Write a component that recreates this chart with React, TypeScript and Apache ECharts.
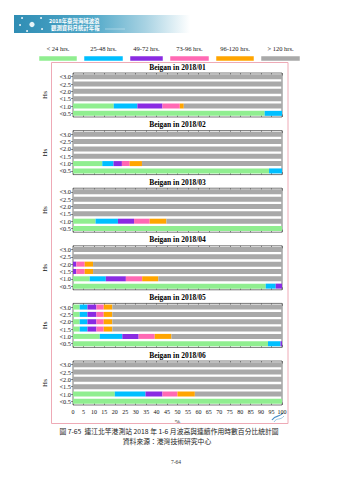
import React, { useEffect, useRef } from 'react';
import * as echarts from 'echarts';

// Hs categories, bottom to top
const hsCategories = ['<0.5', '<1.0', '<1.5', '<2.0', '<2.5', '<3.0'];
const durationClasses = ['< 24 hrs.', '25-48 hrs.', '49-72 hrs.', '73-96 hrs.', '96-120 hrs.', '> 120 hrs.'];
const classColors = ['#90EE90', '#00BFFF', '#8A2BE2', '#FF69B4', '#FFA500', '#A9A9A9'];
const months = ['2018/01', '2018/02', '2018/03', '2018/04', '2018/05', '2018/06'];

// percentage of time per duration class, values for hsCategories (bottom to top)
const jan_24 = [91.7, 19.5, 0, 0, 0, 0];
const jan_48 = [8.3, 11.3, 0, 0, 0, 0];
const jan_72 = [0, 12.0, 0, 0, 0, 0];
const jan_96 = [0, 8.3, 0, 0, 0, 0];
const jan_120 = [0, 1.9, 0, 0, 0, 0];

const feb_24 = [93.8, 14.0, 0, 0, 0, 0];
const feb_48 = [6.2, 5.4, 0, 0, 0, 0];
const feb_72 = [0, 4.0, 0, 0, 0, 0];
const feb_96 = [0, 3.7, 0, 0, 0, 0];
const feb_120 = [0, 5.9, 0, 0, 0, 0];

const mar_24 = [100, 10.8, 0, 0, 0, 0];
const mar_48 = [0, 10.7, 0, 0, 0, 0];
const mar_72 = [0, 7.7, 0, 0, 0, 0];
const mar_96 = [0, 7.5, 0, 0, 0, 0];
const mar_120 = [0, 8.0, 0, 0, 0, 0];

const apr_24 = [92.2, 8.0, 0, 0, 0, 0];
const apr_48 = [4.8, 7.7, 0, 0, 0, 0];
const apr_72 = [3.0, 9.6, 1.6, 1.6, 0, 0];
const apr_96 = [0, 7.8, 4.0, 4.0, 0, 0];
const apr_120 = [0, 7.7, 4.0, 4.0, 0, 0];

const may_24 = [93.3, 12.8, 3.2, 3.2, 3.2, 3.2];
const may_48 = [6.0, 10.8, 3.7, 3.7, 3.7, 3.7];
const may_72 = [0.7, 7.8, 4.3, 4.3, 4.3, 4.3];
const may_96 = [0, 7.7, 3.5, 3.5, 3.5, 3.5];
const may_120 = [0, 8.0, 4.1, 4.1, 4.1, 4.1];

const jun_24 = [100, 20.0, 0, 0, 0, 0];
const jun_48 = [0, 14.7, 0, 0, 0, 0];
const jun_72 = [0, 8.1, 0, 0, 0, 0];
const jun_96 = [0, 7.2, 0, 0, 0, 0];
const jun_120 = [0, 8.3, 0, 0, 0, 0];

const monthSeries = [
  [jan_24, jan_48, jan_72, jan_96, jan_120],
  [feb_24, feb_48, feb_72, feb_96, feb_120],
  [mar_24, mar_48, mar_72, mar_96, mar_120],
  [apr_24, apr_48, apr_72, apr_96, apr_120],
  [may_24, may_48, may_72, may_96, may_120],
  [jun_24, jun_48, jun_72, jun_96, jun_120],
];

const SERIF = '"Liberation Serif", "Times New Roman", serif';
const CJK = '"Noto Sans CJK TC", sans-serif';

const PLOT_LEFT = 73;
const PLOT_WIDTH = 209;
const PANEL_STEP = 57.6;
const gridTop = (k: number) => 73 + PANEL_STEP * k;

// legend layout (centres and widths of swatches)
const legendCenters = [58, 103.5, 146.5, 189.5, 235, 280.5];
const legendWidths = [38, 39, 33, 39, 38, 39];

export default function App() {
  const ref = useRef<HTMLDivElement>(null);
  useEffect(() => {
    if (!ref.current) return;
    const chart = echarts.init(ref.current, null, { renderer: 'svg' });

    const grids: any[] = [];
    const xAxes: any[] = [];
    const yAxes: any[] = [];
    const series: any[] = [];
    const graphics: any[] = [];

    months.forEach((m, k) => {
      const last = k === months.length - 1;
      grids.push({
        left: PLOT_LEFT,
        width: PLOT_WIDTH,
        top: gridTop(k),
        height: 44,
        show: true,
        borderColor: '#555',
        borderWidth: 0.8,
        backgroundColor: '#fff',
      });
      xAxes.push({
        type: 'value',
        gridIndex: k,
        min: 0,
        max: 100,
        interval: 5,
        position: 'bottom',
        axisLine: { show: false },
        axisTick: { show: true, inside: true, length: 2.5, lineStyle: { color: '#444', width: 0.6 } },
        axisLabel: {
          show: last,
          fontFamily: SERIF,
          fontSize: 6,
          color: '#111',
          margin: 4,
        },
        splitLine: { show: false },
        name: last ? '%' : '',
        nameLocation: 'middle',
        nameGap: 13,
        nameTextStyle: { fontFamily: SERIF, fontSize: 6.5, color: '#111' },
      });
      xAxes.push({
        type: 'value',
        gridIndex: k,
        min: 0,
        max: 100,
        interval: 5,
        position: 'top',
        axisLine: { show: false },
        axisTick: { show: true, inside: true, length: 2.5, lineStyle: { color: '#444', width: 0.6 } },
        axisLabel: { show: false },
        splitLine: { show: false },
      });
      yAxes.push({
        type: 'category',
        gridIndex: k,
        data: hsCategories,
        axisLine: { show: false },
        axisTick: { show: true, alignWithLabel: true, interval: 0, length: 2, lineStyle: { color: '#444', width: 0.6 } },
        axisLabel: { interval: 0, fontFamily: SERIF, fontSize: 6.3, color: '#111', margin: 2, lineHeight: 7 },
        name: 'Hs',
        nameLocation: 'middle',
        nameGap: 17,
        nameRotate: 90,
        nameTextStyle: { fontFamily: SERIF, fontSize: 7, color: '#111' },
      });

      const vals = monthSeries[k];
      const remainder = hsCategories.map((_, i) =>
        Math.max(0, +(100 - vals.reduce((s, arr) => s + arr[i], 0)).toFixed(2))
      );
      const all = [...vals, remainder];
      all.forEach((data, c) => {
        series.push({
          type: 'bar',
          name: durationClasses[c],
          xAxisIndex: k * 2,
          yAxisIndex: k,
          stack: 'month' + k,
          data,
          barWidth: 5,
          itemStyle: { color: classColors[c] },
          silent: true,
        });
      });

      graphics.push({
        type: 'text',
        x: PLOT_LEFT + PLOT_WIDTH / 2,
        y: gridTop(k) - 6,
        style: {
          text: `Beigan in ${m}`,
          font: `bold 7.5px ${SERIF}`,
          fill: '#000',
          textAlign: 'center',
          textVerticalAlign: 'middle',
        },
      });
    });

    // banner
    graphics.push({
      type: 'rect',
      shape: { x: 14, y: 15, width: 176, height: 18 },
      style: {
        fill: new echarts.graphic.LinearGradient(0, 0, 1, 0, [
          { offset: 0, color: '#2f8db4' },
          { offset: 0.45, color: '#52a9c9' },
          { offset: 0.75, color: '#a9d3e3' },
          { offset: 1, color: '#ffffff' },
        ]),
      },
    });
    [[22, 18], [41, 18], [27, 31], [20, 25], [42, 29]].forEach(([cx, cy]) =>
      graphics.push({ type: 'circle', shape: { cx, cy, r: 0.9 }, style: { fill: '#fff' } })
    );
    graphics.push({ type: 'circle', shape: { cx: 32, cy: 24.5, r: 2.6 }, style: { fill: '#e8f4f8' } });
    graphics.push({
      type: 'text',
      x: 49,
      y: 21,
      style: { text: '2018年臺灣海域波浪', font: `bold 5.4px ${CJK}`, fill: '#fff', textVerticalAlign: 'middle' },
    });
    graphics.push({
      type: 'text',
      x: 51,
      y: 27.6,
      style: { text: '觀測資料月統計年報', font: `bold 5.4px ${CJK}`, fill: '#fff', textVerticalAlign: 'middle' },
    });
    graphics.push({
      type: 'line',
      shape: { x1: 105, y1: 29, x2: 125, y2: 29 },
      style: { stroke: '#d8eef5', lineWidth: 0.5 },
    });

    // legend
    durationClasses.forEach((label, c) => {
      graphics.push({
        type: 'text',
        x: legendCenters[c],
        y: 48.5,
        style: {
          text: label,
          font: `6.5px ${SERIF}`,
          fill: '#222',
          textAlign: 'center',
          textVerticalAlign: 'middle',
        },
      });
      graphics.push({
        type: 'rect',
        shape: {
          x: legendCenters[c] - legendWidths[c] / 2,
          y: 56,
          width: legendWidths[c],
          height: 5,
        },
        style: { fill: classColors[c], stroke: '#ffffff', lineWidth: 0.5 },
      });
    });

    // pink frame
    graphics.push({
      type: 'rect',
      shape: { x: 51.5, y: 62.5, width: 236.5, height: 361 },
      style: { fill: 'none', stroke: '#eeaab6', lineWidth: 1 },
      z: 10,
    });

    // small logo
    graphics.push({
      type: 'bezierCurve',
      shape: { x1: 272, y1: 420, x2: 283, y2: 413, cpx1: 276, cpy1: 414, cpx2: 279, cpy2: 418 },
      style: { stroke: '#4a90c8', lineWidth: 1.2, fill: 'none' },
    });
    graphics.push({
      type: 'bezierCurve',
      shape: { x1: 274, y1: 422, x2: 284, y2: 416, cpx1: 277, cpy1: 417, cpx2: 280, cpy2: 421 },
      style: { stroke: '#7fb6dc', lineWidth: 0.8, fill: 'none' },
    });

    // caption
    graphics.push({
      type: 'text',
      x: 169,
      y: 431,
      style: {
        text: '圖 7-65  連江北竿港測站 2018 年 1-6 月波高與連續作用時數百分比統計圖',
        font: `6.8px ${CJK}`,
        fill: '#222',
        textAlign: 'center',
        textVerticalAlign: 'middle',
      },
    });
    graphics.push({
      type: 'text',
      x: 167,
      y: 440.5,
      style: {
        text: '資料來源：港灣技術研究中心',
        font: `6.8px ${CJK}`,
        fill: '#222',
        textAlign: 'center',
        textVerticalAlign: 'middle',
      },
    });
    graphics.push({
      type: 'text',
      x: 176,
      y: 462,
      style: {
        text: '7-64',
        font: `5.5px ${SERIF}`,
        fill: '#333',
        textAlign: 'center',
        textVerticalAlign: 'middle',
      },
    });

    chart.setOption({
      animation: false,
      backgroundColor: '#fff',
      grid: grids,
      xAxis: xAxes,
      yAxis: yAxes,
      series,
      graphic: graphics,
    });
    return () => chart.dispose();
  }, []);

  return (
    <div
      ref={ref}
      style={{ position: 'absolute', left: 0, top: 0, width: 339, height: 480 }}
    />
  );
}
